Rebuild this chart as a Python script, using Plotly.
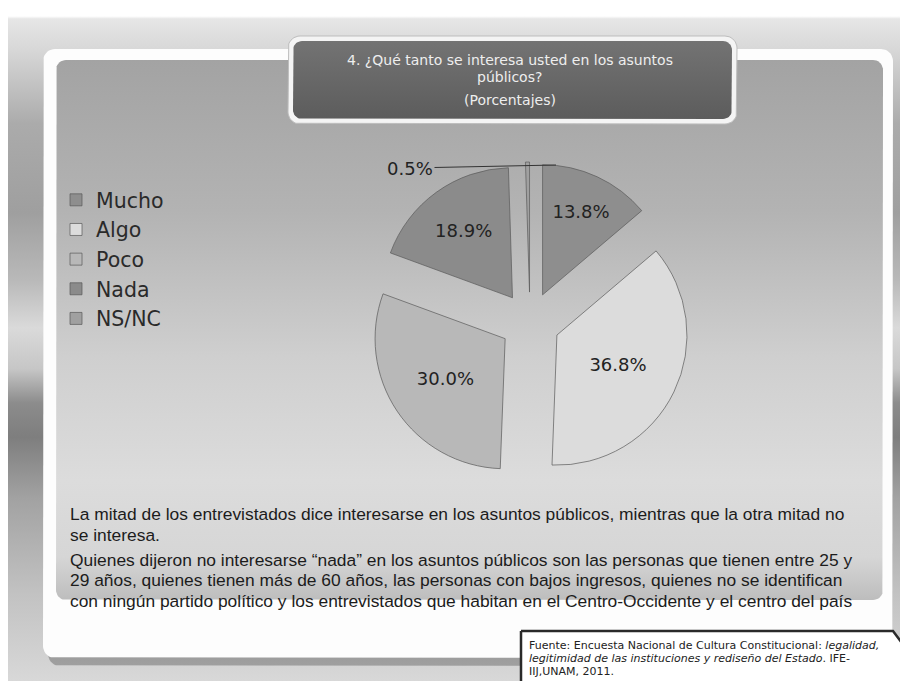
import numpy as np
import plotly.graph_objects as go

# ---- data ----
categories = ["Mucho", "Algo", "Poco", "Nada", "NS/NC"]
percentages = [13.8, 36.8, 30.0, 18.9, 0.5]
slice_colors = ["#8e8e8e", "#dcdcdc", "#b8b8b8", "#8b8b8b", "#a0a0a0"]

title_lines = ["4. ¿Qué tanto se interesa usted en los asuntos", "públicos?", "(Porcentajes)"]
para_lines = [
    "La mitad de los entrevistados dice interesarse en los asuntos públicos, mientras que la otra mitad no",
    "se interesa.",
    "Quienes dijeron no interesarse “nada” en los asuntos públicos son las personas que tienen entre 25 y",
    "29 años, quienes tienen más de 60 años, las personas con bajos ingresos, quienes no se identifican",
    "con ningún partido político y los entrevistados que habitan en el Centro-Occidente y el centro del país",
]
source_lines = [
    "Fuente: Encuesta Nacional de Cultura Constitucional: <i>legalidad,</i>",
    "<i>legitimidad de las instituciones y rediseño del Estado</i>. IFE-",
    "IIJ,UNAM, 2011.",
]

W, H = 908, 681


def rrect(x0, y0, x1, y1, r, n=10):
    xs, ys = [], []
    corners = [(x1 - r, y0 + r, -90, 0), (x1 - r, y1 - r, 0, 90),
               (x0 + r, y1 - r, 90, 180), (x0 + r, y0 + r, 180, 270)]
    for cx, cy, a0, a1 in corners:
        for a in np.linspace(np.radians(a0), np.radians(a1), n):
            xs.append(cx + r * np.cos(a))
            ys.append(cy + r * np.sin(a))
    xs.append(xs[0]); ys.append(ys[0])
    return xs, ys


def deco(xs, ys, color=None, grad=None, line_color=None, line_width=0):
    kw = dict(x=xs, y=ys, mode="lines", fill="toself", hoverinfo="skip",
              showlegend=False,
              line=dict(width=line_width, color=line_color or "rgba(0,0,0,0)"))
    if grad is not None:
        kw["fillgradient"] = dict(type="vertical", colorscale=grad[0],
                                  start=grad[1], stop=grad[2])
        kw["fillcolor"] = "rgba(0,0,0,0)"
    else:
        kw["fillcolor"] = color
    return go.Scatter(**kw)


fig = go.Figure()

# page background
page_grad = [[0, "#ffffff"], [0.012, "#ffffff"], [0.016, "#e6e6e6"], [0.06, "#d8d8d8"],
             [0.17, "#ababab"], [0.30, "#9f9f9f"], [0.40, "#b9b9b9"], [0.47, "#dadada"],
             [0.53, "#c6c6c6"], [0.58, "#8c8c8c"], [0.63, "#7e7e7e"], [0.72, "#a2a2a2"],
             [0.86, "#c2c2c2"], [1, "#dadada"]]
fig.add_trace(deco([0, W, W, 0, 0], [0, 0, H, H, 0], grad=(page_grad, 0, H)))

# panel shadow
sx, sy = rrect(40, 50, 882, 658, 12)
fig.add_trace(deco(sx, sy, color="rgba(60,60,60,0.35)"))
# white panel
px_, py_ = rrect(35, 41, 885, 650, 12)
fig.add_trace(deco(px_, py_, color="#fdfdfd"))
# inner gray panel
inner_grad = [[0, "#a3a3a3"], [0.28, "#b3b3b3"], [0.55, "#cfcfcf"], [0.78, "#dcdcdc"],
              [0.92, "#d6d6d6"], [1, "#bdbdbd"]]
ix, iy = rrect(48, 52, 875, 592, 10)
fig.add_trace(deco(ix, iy, grad=(inner_grad, 52, 592)))

# title box
tx, ty = rrect(280, 28, 729, 116, 12)
fig.add_trace(deco(tx, ty, color="#f4f4f4", line_color="#bdbdbd", line_width=1))
tx2, ty2 = rrect(285, 33, 724, 111, 9)
fig.add_trace(deco(tx2, ty2, grad=([[0, "#737373"], [1, "#5c5c5c"]], 33, 111)))

# source box (chevron)
fx = [513, 885, 906, 887, 513, 513]
fy = [623, 623, 651, 684, 684, 623]
fig.add_trace(deco(fx, fy, color="#ffffff", line_color="#2a2a2a", line_width=2.5))

# ---- pie ----
pull = [0.23] * len(categories)
fig.add_trace(go.Pie(
    labels=categories, values=percentages, sort=False, direction="clockwise",
    rotation=0, pull=pull, hole=0,
    marker=dict(colors=slice_colors, line=dict(color="rgba(90,90,90,0.7)", width=1)),
    texttemplate=["%{value:.1f}%"] * 4 + [""],
    textposition="inside", insidetextorientation="horizontal",
    insidetextfont=dict(family="DejaVu Sans", size=18, color="#222222"),
    domain=dict(x=[362 / W, 682 / W], y=[1 - 474 / H, 1 - 154 / H]),
    hoverinfo="label+percent",
))

annotations = []
for txt, yc in zip(title_lines, [52, 69, 92]):
    annotations.append(dict(text=txt, x=502 / W, y=1 - yc / H, xref="paper", yref="paper",
                            xanchor="center", yanchor="middle", showarrow=False,
                            font=dict(family="DejaVu Sans", size=14, color="#eeeeee")))
annotations.append(dict(text=f"{percentages[4]:.1f}%", x=548 / W, y=1 - 157 / H,
                        xref="paper", yref="paper",
                        ax=-146, ay=3, showarrow=True, arrowhead=0, arrowwidth=1,
                        arrowcolor="#333333", standoff=0, startstandoff=0,
                        font=dict(family="DejaVu Sans", size=18, color="#222222")))
for txt, yc in zip(para_lines, [506, 527, 552, 572, 593]):
    annotations.append(dict(text=txt, x=60 / W, y=1 - yc / H, xref="paper", yref="paper",
                            xanchor="left", yanchor="middle", align="left", showarrow=False,
                            font=dict(family="Liberation Sans", size=17.4, color="#1c1c1c")))
for txt, yc in zip(source_lines, [637, 650, 663]):
    annotations.append(dict(text=txt, x=519 / W, y=1 - yc / H, xref="paper", yref="paper",
                            xanchor="left", yanchor="middle", align="left", showarrow=False,
                            font=dict(family="DejaVu Sans", size=11, color="#222222")))

fig.update_layout(
    width=W, height=H, margin=dict(l=0, r=0, t=0, b=0),
    paper_bgcolor="#ffffff", plot_bgcolor="rgba(0,0,0,0)",
    xaxis=dict(range=[0, W], visible=False, fixedrange=True),
    yaxis=dict(range=[H, 0], visible=False, fixedrange=True),
    showlegend=True,
    legend=dict(x=48 / W, y=1 - 172 / H, xanchor="left", yanchor="top",
                bgcolor="rgba(0,0,0,0)",
                font=dict(family="DejaVu Sans", size=20.5, color="#2a2a2a")),
    annotations=annotations,
)

fig.write_html("out.html")
